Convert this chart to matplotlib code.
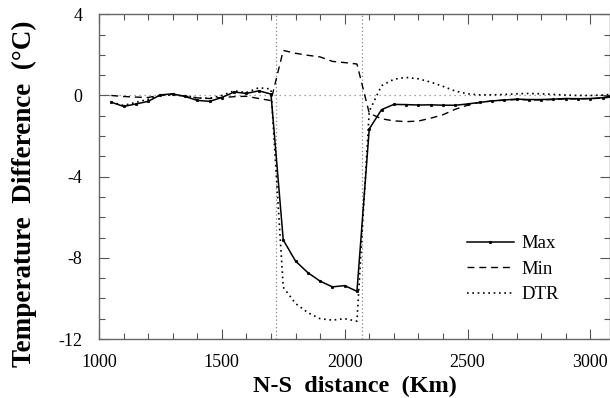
import matplotlib
matplotlib.use("Agg")
import matplotlib.pyplot as plt

plt.rcParams['font.family'] = ['Liberation Serif', 'DejaVu Serif']
plt.rcParams['axes.unicode_minus'] = False

distance = [1050, 1100, 1150, 1200, 1250, 1300, 1350, 1400, 1450, 1500,
            1550, 1600, 1650, 1700, 1750, 1800, 1850, 1900, 1950, 2000,
            2050, 2100, 2150, 2200, 2250, 2300, 2350, 2400, 2450, 2500,
            2550, 2600, 2650, 2700, 2750, 2800, 2850, 2900, 2950, 3000,
            3050, 3100]

t_max = [-0.33, -0.54, -0.42, -0.29, 0.03, 0.08, -0.05, -0.24, -0.29, -0.10,
         0.17, 0.10, 0.23, 0.07, -7.12, -8.16, -8.73, -9.15, -9.43, -9.37,
         -9.65, -1.65, -0.70, -0.44, -0.45, -0.47, -0.46, -0.48, -0.48, -0.42,
         -0.34, -0.27, -0.22, -0.18, -0.20, -0.20, -0.18, -0.15, -0.16, -0.15,
         -0.11, 0.03]

t_min = [0.00, -0.05, -0.08, -0.10, 0.02, 0.06, -0.03, -0.12, -0.15, -0.10,
         -0.06, -0.04, -0.15, -0.25, 2.22, 2.08, 1.98, 1.90, 1.68, 1.62,
         1.55, -0.87, -1.15, -1.25, -1.29, -1.26, -1.12, -0.95, -0.68, -0.48,
         -0.34, -0.27, -0.23, -0.20, -0.22, -0.22, -0.20, -0.17, -0.17, -0.16,
         -0.13, -0.05]

t_dtr = [-0.33, -0.49, -0.34, -0.19, 0.01, 0.02, -0.02, -0.12, -0.14, 0.00,
         0.23, 0.14, 0.38, 0.32, -9.45, -10.25, -10.70, -11.00, -11.07, -11.00,
         -11.12, -0.78, 0.48, 0.80, 0.89, 0.82, 0.66, 0.45, 0.22, 0.08,
         0.03, 0.03, 0.05, 0.08, 0.10, 0.08, 0.05, 0.02, 0.00, 0.00,
         0.02, 0.07]

boundaries = [1722, 2072]

fig = plt.figure(figsize=(6.10, 3.98), dpi=100)
ax = fig.add_axes([99/610, 1 - 339/398, 1 - 99/610, (339 - 14.3)/398])

ax.axhline(0, color='#888888', lw=0.9, ls=(0, (1, 3)), zorder=1)
for b in boundaries:
    ax.axvline(b, color='#888888', lw=0.9, ls=(0, (1, 2)), zorder=1)

ax.plot(distance, t_max, color='black', lw=1.1, marker='o', ms=1.8, mew=0.5,
        label='Max', zorder=3)
ax.plot(distance, t_min, color='black', lw=1.0, ls=(0, (5, 3.5)), label='Min', zorder=3)
ax.plot(distance, t_dtr, color='black', lw=1.2, ls=(0, (1, 2.2)), label='DTR', zorder=3)

ax.set_xlim(1000, 3080)
ax.set_ylim(-12, 4)
ax.set_xticks([1000, 1500, 2000, 2500, 3000])
ax.set_xticks(range(1000, 3100, 100), minor=True)
ax.set_yticks([-12, -8, -4, 0, 4])
ax.set_yticks(range(-12, 5, 1), minor=True)
ax.tick_params(which='both', direction='in', top=True, right=True,
               color='#555555')
ax.tick_params(axis='x', labelsize=13, pad=11)
ax.tick_params(axis='y', labelsize=13, pad=12)
ax.tick_params(which='major', length=7, width=0.8)
ax.tick_params(which='minor', length=4, width=0.8)
for s in ax.spines.values():
    s.set_color('#666666')
    s.set_linewidth(1.0)

ax.set_xlabel('N-S  distance  (Km)', fontsize=17.5, fontweight='bold', labelpad=3)
ax.set_ylabel('Temperature  Difference  (°C)', fontsize=19.5, fontweight='bold')
ax.yaxis.set_label_coords(-0.121, 0.447)

leg = ax.legend(loc='upper left', bbox_to_anchor=(467/610, 1 - 235/398),
                bbox_transform=fig.transFigure, frameon=False, fontsize=13.5,
                handlelength=2.5, handletextpad=0.4, labelspacing=0.45,
                borderpad=0, borderaxespad=0)

fig.savefig('out.png', dpi=100)
